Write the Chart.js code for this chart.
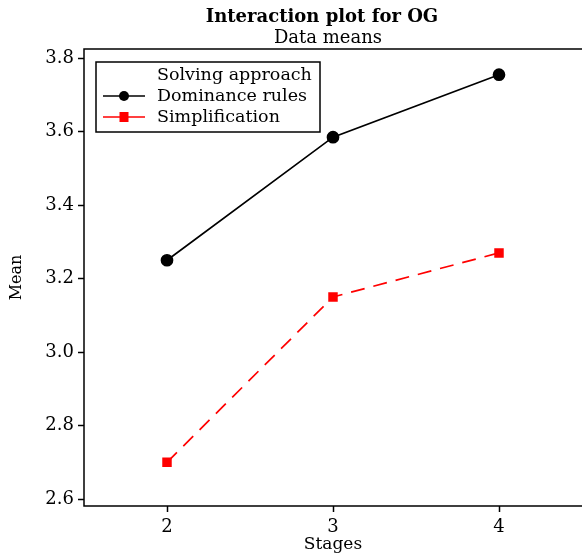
<!DOCTYPE html>
<html>
<head>
<meta charset="utf-8">
<script src="https://cdn.jsdelivr.net/npm/chart.js@4/dist/chart.umd.min.js"></script>
<style>
  html, body { margin: 0; padding: 0; background: #fff; }
  #wrap { width: 582px; height: 555px; }
</style>
</head>
<body>
<div id="wrap"><canvas id="chart" width="582" height="555"></canvas></div>
<script>
// Data
const stages = ['2', '3', '4']
const dominanceMeans = [3.25, 3.585, 3.755]
const simplificationMeans = [2.70, 3.15, 3.27]
const yTicks = [2.6, 2.8, 3.0, 3.2, 3.4, 3.6, 3.8]

const SERIF = "'DejaVu Serif', 'Liberation Serif', serif"

// Box round the plot area (right side falls off the canvas), titles and the in-plot legend
const framePlugin = {
  id: 'frame',
  afterDraw(chart) {
    const { ctx, chartArea: a } = chart
    ctx.save()
    ctx.strokeStyle = '#000'
    ctx.lineWidth = 1.5
    ctx.beginPath()
    ctx.moveTo(a.right + 2, a.top)
    ctx.lineTo(a.left, a.top)
    ctx.lineTo(a.left, a.bottom)
    ctx.lineTo(a.right + 2, a.bottom)
    ctx.stroke()

    // titles
    ctx.fillStyle = '#000'
    ctx.textAlign = 'center'
    ctx.textBaseline = 'middle'
    ctx.font = 'bold 18px ' + SERIF
    ctx.fillText('Interaction plot for OG', 322, 17)
    ctx.font = '18px ' + SERIF
    ctx.fillText('Data means', 328, 38)

    // legend
    const bx = a.left + 12, by = a.top + 13, bw = 224, bh = 70
    ctx.lineWidth = 1.5
    ctx.strokeRect(bx, by, bw, bh)
    ctx.textAlign = 'left'
    ctx.font = '17.5px ' + SERIF
    ctx.fillText('Solving approach', bx + 61, by + 13)
    chart.data.datasets.forEach((ds, i) => {
      const y = by + 34 + i * 21
      ctx.strokeStyle = ds.borderColor
      ctx.lineWidth = 1.5
      ctx.setLineDash([])
      ctx.beginPath()
      ctx.moveTo(bx + 7, y)
      ctx.lineTo(bx + 49, y)
      ctx.stroke()
      ctx.fillStyle = ds.pointBackgroundColor
      if (ds.pointStyle === 'rect') {
        ctx.fillRect(bx + 28 - 4.5, y - 5, 9, 10)
      } else {
        ctx.beginPath()
        ctx.arc(bx + 28, y, 5, 0, Math.PI * 2)
        ctx.fill()
      }
      ctx.fillStyle = '#000'
      ctx.fillText(ds.label, bx + 61, y)
    })
    ctx.restore()
  }
}

new Chart(document.getElementById('chart').getContext('2d'), {
  type: 'line',
  data: {
    labels: stages,
    datasets: [
      {
        label: 'Dominance rules',
        data: dominanceMeans,
        borderColor: '#000',
        backgroundColor: '#000',
        pointBackgroundColor: '#000',
        pointBorderColor: '#000',
        pointStyle: 'circle',
        pointRadius: 5.5,
        borderWidth: 1.7,
        tension: 0
      },
      {
        label: 'Simplification',
        data: simplificationMeans,
        borderColor: '#ff0000',
        backgroundColor: '#ff0000',
        pointBackgroundColor: '#ff0000',
        pointBorderColor: '#ff0000',
        pointStyle: 'rect',
        pointRadius: 5.5,
        borderWidth: 1.7,
        borderDash: [14, 9],
        tension: 0
      }
    ]
  },
  options: {
    responsive: false,
    animation: false,
    layout: { autoPadding: false, padding: { top: 49, right: 0, left: 0, bottom: 0 } },
    plugins: {
      legend: { display: false },
      title: { display: false },
      tooltip: { enabled: false }
    },
    scales: {
      x: {
        type: 'category',
        offset: true,
        afterFit: (scale) => {
          scale.height = 49
          scale.paddingLeft = 0
          scale.paddingRight = 0
        },
        border: { display: false },
        grid: { offset: false, drawOnChartArea: false, tickLength: 6, tickWidth: 1.5, tickColor: '#000' },
        ticks: { color: '#000', padding: 5, font: { family: SERIF, size: 18 } },
        title: { display: true, text: 'Stages', color: '#000', padding: { top: 0, bottom: 0 }, font: { family: SERIF, size: 17 } }
      },
      y: {
        min: 2.581,
        max: 3.825,
        afterFit: (scale) => {
          scale.width = 84
          scale.paddingTop = 0
          scale.paddingBottom = 0
        },
        afterBuildTicks: (scale) => { scale.ticks = yTicks.map((v) => ({ value: v })) },
        border: { display: false },
        grid: { drawOnChartArea: false, tickLength: 6, tickWidth: 1.5, tickColor: '#000' },
        ticks: { color: '#000', padding: 4, font: { family: SERIF, size: 18 }, callback: (v) => v.toFixed(1) },
        title: { display: true, text: 'Mean', color: '#000', padding: { top: 7, bottom: 0 }, font: { family: SERIF, size: 16 } }
      }
    }
  },
  plugins: [framePlugin]
})
</script>
</body>
</html>
